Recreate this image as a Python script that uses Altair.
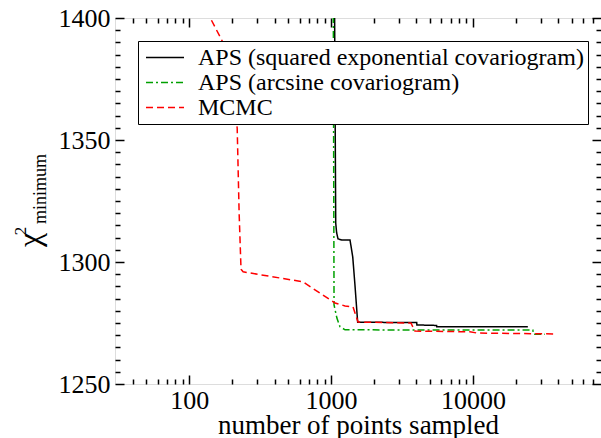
import altair as alt
import pandas as pd

# ---- data ----
series_names = ["APS (squared exponential covariogram)", "APS (arcsine covariogram)", "MCMC"]

sqexp_x = [1050, 1060, 1079, 1095, 1120, 1189, 1361, 1423, 1477, 1541, 4018, 4030, 5548, 5560, 24400]
sqexp_y = [1450, 1400, 1316, 1312, 1309.5, 1309, 1309, 1302, 1290, 1275.3, 1275.2, 1274.2, 1274.0, 1273.5, 1273.5]

arcsine_x = [1030, 1038, 1050, 1100, 1156, 1256, 26450, 26800, 32100]
arcsine_y = [1450, 1400, 1282.4, 1277, 1273.5, 1272.2, 1272.1, 1270.4, 1270.4]

mcmc_x = [121, 138, 173, 218, 225, 232, 240, 269, 586, 636, 1067, 1256, 1429, 1550, 3656, 3904, 9528, 10670, 39100]
mcmc_y = [1407, 1401, 1390, 1355, 1320, 1297, 1296, 1295.5, 1292.2, 1291.8, 1283.2, 1282, 1281.6, 1275.4, 1275, 1271.7, 1271.4, 1270.9, 1270.5]

x_major = [100, 1000, 10000]
x_minor = [40, 50, 60, 70, 80, 90, 200, 300, 400, 500, 600, 700, 800, 900,
           2000, 3000, 4000, 5000, 6000, 7000, 8000, 9000,
           20000, 30000, 40000, 50000, 60000, 70000]
y_major = [1250, 1300, 1350, 1400]
y_minor = [v for v in range(1255, 1400, 5) if v % 50 != 0]

x_domain = [30, 80000]
y_domain = [1250, 1400]

rows = []
for name, xs, ys in zip(series_names, [sqexp_x, arcsine_x, mcmc_x], [sqexp_y, arcsine_y, mcmc_y]):
    for i, (a, b) in enumerate(zip(xs, ys)):
        rows.append({"series": name, "x": a, "y": b, "order": i})
df = pd.DataFrame(rows)

W, H = 486, 366
FONT = "serif"

xscale = alt.Scale(type="log", domain=x_domain)
yscale = alt.Scale(domain=y_domain)

legend = alt.Legend(
    orient="none", legendX=23, legendY=23, title=None,
    fillColor="white", strokeColor="black", padding=4,
    symbolType="stroke", symbolSize=1444, symbolStrokeWidth=1.5, symbolOffset=3,
    labelFontSize=24, labelFont=FONT, labelColor="black", labelOffset=13,
    labelLimit=600, rowPadding=0, clipHeight=25,
)

lines = alt.Chart(df).mark_line(clip=True, strokeWidth=1.5).encode(
    x=alt.X("x:Q", scale=xscale,
            axis=alt.Axis(orient="bottom", values=x_major, format="d", ticks=False, domain=False,
                          labelFontSize=26, labelFont=FONT, labelColor="black", labelPadding=3,
                          title="number of points sampled", titleFontSize=27, titleFont=FONT,
                          titleFontWeight="normal", titleColor="black", titleY=49,
                          titleBaseline="alphabetic", grid=False)),
    y=alt.Y("y:Q", scale=yscale,
            axis=alt.Axis(orient="left", values=y_major, format="d", ticks=False, domain=False,
                          labelFontSize=26, labelFont=FONT, labelColor="black", labelPadding=5,
                          title=None, grid=False)),
    color=alt.Color("series:N", scale=alt.Scale(domain=series_names, range=["black", "#00a000", "#ff0000"]),
                    legend=legend),
    strokeDash=alt.StrokeDash("series:N", scale=alt.Scale(domain=series_names, range=[[1, 0], [7, 3, 2, 3], [7, 4]]),
                              legend=legend),
    order="order:Q",
)


def tick_layer(xorient, xoff, xvals, yorient, yoff, yvals, size):
    return alt.Chart(df).mark_line(strokeOpacity=0).encode(
        x=alt.X("x:Q", scale=xscale,
                axis=alt.Axis(orient=xorient, offset=xoff, values=xvals, labels=False, domain=False,
                              ticks=True, tickSize=size, tickColor="black", tickWidth=1.5,
                              title=None, grid=False)),
        y=alt.Y("y:Q", scale=yscale,
                axis=alt.Axis(orient=yorient, offset=yoff, values=yvals, labels=False, domain=False,
                              ticks=True, tickSize=size, tickColor="black", tickWidth=1.5,
                              title=None, grid=False)),
        detail="series:N",
    )


t1 = tick_layer("top", -H, x_major, "right", -W, y_major, 9)
t2 = tick_layer("top", -H, x_minor, "right", -W, y_minor, 5)
t3 = tick_layer("bottom", -H, x_major, "left", -W, y_major, 9)
t4 = tick_layer("bottom", -H, x_minor, "left", -W, y_minor, 5)


def label(txt, x, y, size):
    return alt.Chart(pd.DataFrame({"t": [txt]})).mark_text(
        angle=270, align="center", baseline="middle", font=FONT, fontSize=size, color="black"
    ).encode(x=alt.value(x), y=alt.value(y), text="t:N")


chi = label("χ", -85, 222, 32)
sup = label("2", -94, 213, 17)
sub = label("minimum", -74, 171, 18)

chart = alt.layer(lines, t1, t2, t3, t4, chi, sup, sub).resolve_axis(
    x="independent", y="independent"
).properties(
    width=W, height=H,
    autosize=alt.AutoSizeParams(type="none"),
    padding={"left": 115, "top": 18, "right": 0, "bottom": 54},
).configure_view(stroke="black", strokeWidth=1.5).configure(background="white", font=FONT)

chart.save("out.html", embed_options={"renderer": "svg", "actions": False})
